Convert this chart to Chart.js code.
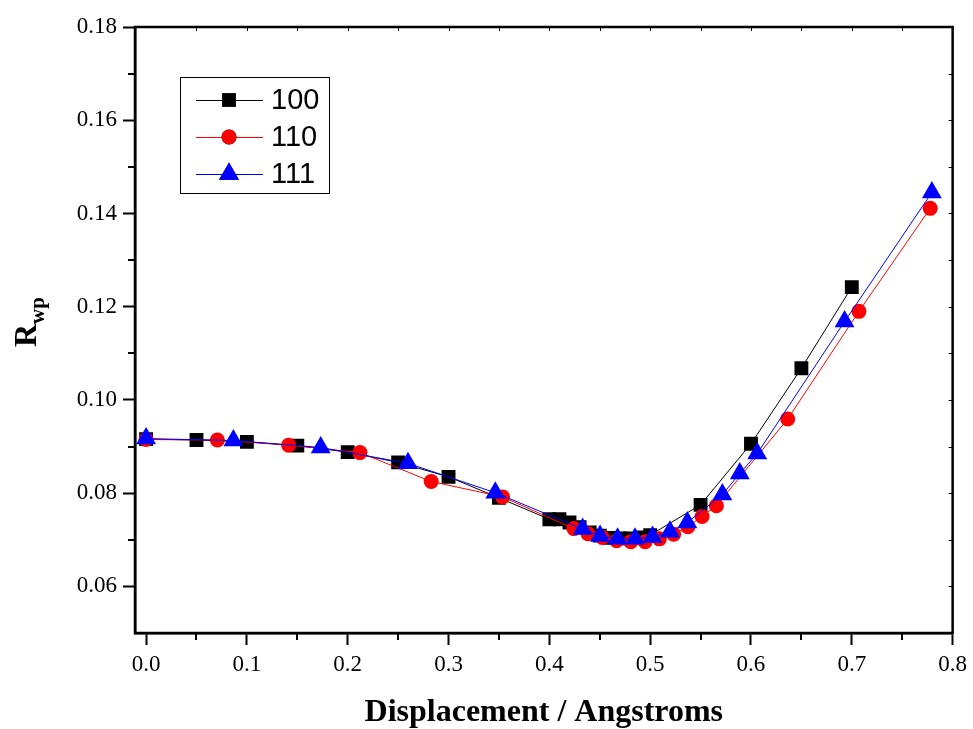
<!DOCTYPE html>
<html>
<head>
<meta charset="utf-8">
<title>Rwp vs displacement</title>
<script src="https://cdn.jsdelivr.net/npm/chart.js@4.4.1/dist/chart.umd.min.js"></script>
<style>
  html, body { margin: 0; padding: 0; background: #fff; }
  #wrap { width: 973px; height: 729px; position: relative; }
</style>
</head>
<body>
<div id="wrap"><canvas id="chart" width="973" height="729"></canvas></div>
<script>
// ---- data ----
const xTicks = [0.0, 0.1, 0.2, 0.3, 0.4, 0.5, 0.6, 0.7, 0.8];
const yTicks = [0.06, 0.08, 0.10, 0.12, 0.14, 0.16, 0.18];

const x100 = [0, 0.05, 0.10, 0.15, 0.20, 0.25, 0.30, 0.35, 0.40, 0.41, 0.42, 0.43, 0.44, 0.45, 0.46, 0.47, 0.48, 0.49, 0.50, 0.55, 0.60, 0.65, 0.70];
const y100 = [0.0916, 0.0914, 0.0910, 0.0902, 0.0888, 0.0866, 0.0835, 0.0790, 0.0744, 0.0744, 0.0737, 0.0727, 0.0716, 0.0709, 0.0704, 0.0703, 0.0703, 0.0705, 0.0710, 0.0775, 0.0906, 0.1068, 0.1242];

const x110 = [0, 0.0707, 0.1414, 0.2121, 0.2828, 0.3536, 0.4243, 0.4384, 0.4525, 0.4667, 0.4808, 0.4950, 0.5091, 0.5233, 0.5374, 0.5515, 0.5657, 0.6364, 0.7071, 0.7778];
const y110 = [0.0915, 0.0914, 0.0903, 0.0887, 0.0825, 0.0792, 0.0724, 0.0713, 0.0705, 0.0698, 0.0696, 0.0696, 0.0702, 0.0712, 0.0728, 0.0750, 0.0773, 0.0959, 0.1190, 0.1411];

const x111 = [0, 0.0866, 0.1732, 0.2598, 0.3464, 0.4330, 0.4503, 0.4677, 0.4850, 0.5023, 0.5196, 0.5369, 0.5716, 0.5889, 0.6062, 0.6928, 0.7794];
const y111 = [0.0917, 0.0913, 0.0898, 0.0864, 0.0801, 0.0723, 0.0708, 0.0702, 0.0702, 0.0706, 0.0717, 0.0737, 0.0797, 0.0842, 0.0885, 0.1168, 0.1445];

const pts = (xs, ys) => xs.map((x, i) => ({ x, y: ys[i] }));

// frame, minor ticks, legend and y title
const decorPlugin = {
  id: 'decor',
  afterDraw(chart) {
    const { ctx, chartArea: a, scales: { x, y } } = chart;
    ctx.save();
    ctx.strokeStyle = '#000';
    ctx.lineWidth = 2.5;
    ctx.strokeRect(a.left, a.top, a.right - a.left, a.bottom - a.top);

    // minor ticks (outward on bottom/left, small inward on top/right)
    ctx.lineWidth = 2;
    ctx.beginPath();
    for (let v = 0.05; v < 0.8; v += 0.1) {
      const px = Math.round(x.getPixelForValue(v));
      ctx.moveTo(px, a.bottom); ctx.lineTo(px, a.bottom + 7);
    }
    for (let v = 0.07; v < 0.18; v += 0.02) {
      const py = Math.round(y.getPixelForValue(v));
      ctx.moveTo(a.left, py); ctx.lineTo(a.left - 7, py);
    }
    ctx.stroke();
    ctx.lineWidth = 1;
    ctx.beginPath();
    for (let v = 0.05; v < 0.8; v += 0.05) {
      const px = Math.round(x.getPixelForValue(v)) + 0.5;
      ctx.moveTo(px, a.top); ctx.lineTo(px, a.top + 4);
    }
    for (let v = 0.06; v < 0.18; v += 0.01) {
      const py = Math.round(y.getPixelForValue(v)) + 0.5;
      ctx.moveTo(a.right, py); ctx.lineTo(a.right - 4, py);
    }
    ctx.stroke();

    // legend box
    const lx = 180, ly = 77, lw = 149, lh = 116;
    ctx.fillStyle = '#fff';
    ctx.fillRect(lx, ly, lw, lh);
    ctx.strokeStyle = '#000';
    ctx.lineWidth = 1;
    ctx.strokeRect(lx + 0.5, ly + 0.5, lw, lh);
    const rows = [100, 137, 174];
    chart.data.datasets.forEach((ds, i) => {
      const ry = rows[i];
      ctx.strokeStyle = ds.borderColor;
      ctx.lineWidth = 1;
      ctx.beginPath();
      ctx.moveTo(196, ry + 0.5); ctx.lineTo(263, ry + 0.5);
      ctx.stroke();
      Chart.helpers.drawPoint(ctx, {
        pointStyle: ds.pointStyle, radius: ds.pointRadius, borderWidth: 0, rotation: 0
      }, 229, ry);
      ctx.fillStyle = ds.pointBackgroundColor;
      ctx.fill();
      ctx.fillStyle = '#000';
      ctx.font = '29px "Liberation Sans", Arial, sans-serif';
      ctx.textAlign = 'left';
      ctx.textBaseline = 'middle';
      ctx.fillText(ds.label, 271, ry + 1);
    });

    // y title R_wp
    ctx.translate(36, 347);
    ctx.rotate(-Math.PI / 2);
    ctx.fillStyle = '#000';
    ctx.textAlign = 'left';
    ctx.textBaseline = 'alphabetic';
    ctx.font = 'bold 32px "Liberation Serif", "Times New Roman", serif';
    ctx.fillText('R', 0, 0);
    const wR = ctx.measureText('R').width;
    ctx.font = 'bold 21px "Liberation Serif", "Times New Roman", serif';
    ctx.fillText('wp', wR, 8);
    ctx.restore();
  }
};

const tickFont = { family: '"Liberation Serif", "Times New Roman", serif', size: 23 };

new Chart(document.getElementById('chart'), {
  type: 'line',
  data: {
    datasets: [
      { label: '100', data: pts(x100, y100), borderColor: '#000000', pointBackgroundColor: '#000000',
        pointStyle: 'rect', pointRadius: 9.8, order: 2 },
      { label: '110', data: pts(x110, y110), borderColor: '#ff0000', pointBackgroundColor: '#ff0000',
        pointStyle: 'circle', pointRadius: 7.5, order: 1 },
      { label: '111', data: pts(x111, y111), borderColor: '#0000ff', pointBackgroundColor: '#0000ff',
        pointStyle: 'triangle', pointRadius: 11.5, order: 0 },
    ].map(d => ({ ...d, borderWidth: 1, tension: 0, pointBorderWidth: 0, pointHoverRadius: d.pointRadius, fill: false })),
  },
  options: {
    responsive: false,
    animation: false,
    events: [],
    layout: { padding: { top: 27, right: 16, bottom: 0, left: 0 } },
    plugins: { legend: { display: false }, tooltip: { enabled: false } },
    scales: {
      x: {
        type: 'linear', min: -0.011, max: 0.8,
        afterBuildTicks: s => { s.ticks = xTicks.map(v => ({ value: v })); },
        afterFit: s => { s.height = 96; },
        ticks: { color: '#000', font: tickFont, padding: 6, maxRotation: 0, autoSkip: false,
          callback: v => v.toFixed(1) },
        grid: { drawOnChartArea: false, drawTicks: true, tickLength: 12, tickColor: '#000', tickWidth: 2 },
        border: { display: true, color: '#000', width: 2.5 },
        title: { display: true, text: 'Displacement / Angstroms', color: '#000',
          font: { family: '"Liberation Serif", "Times New Roman", serif', size: 32, weight: 'bold', lineHeight: 1.0 },
          padding: { top: 0, bottom: 0 } },
      },
      y: {
        type: 'linear', min: 0.05, max: 0.18,
        afterBuildTicks: s => { s.ticks = yTicks.map(v => ({ value: v })); },
        afterFit: s => { s.width = 135; },
        ticks: { color: '#000', font: tickFont, padding: 6, autoSkip: false,
          callback: v => v.toFixed(2) },
        grid: { drawOnChartArea: false, drawTicks: true, tickLength: 12, tickColor: '#000', tickWidth: 2 },
        border: { display: true, color: '#000', width: 2.5 },
      },
    },
  },
  plugins: [decorPlugin],
});
</script>
</body>
</html>
